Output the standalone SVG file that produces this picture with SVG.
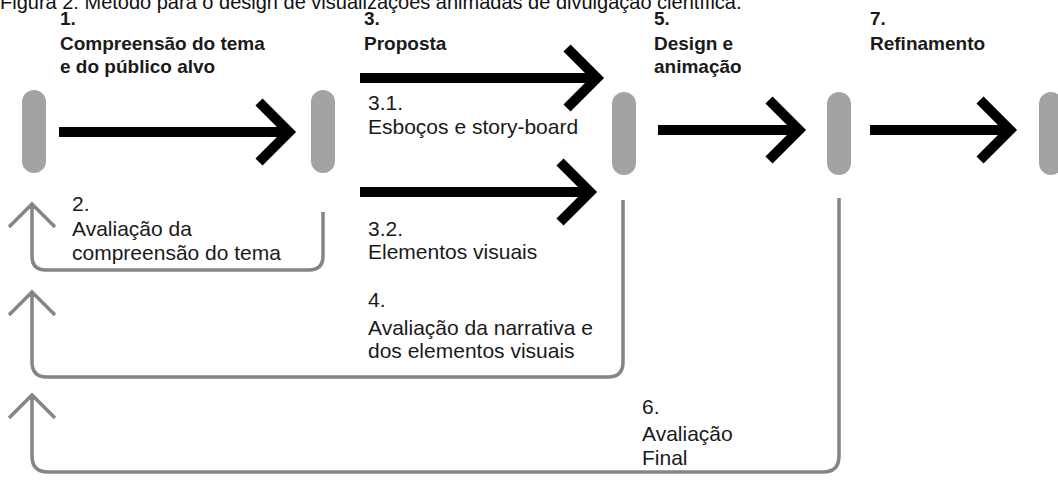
<svg xmlns="http://www.w3.org/2000/svg" width="1058" height="480" viewBox="0 0 1058 480">
<style>
.cap{font-family:"Liberation Sans",Arial,sans-serif;font-size:20px;fill:#111}
.h{font-family:"Liberation Sans",Arial,sans-serif;font-size:19px;font-weight:bold;fill:#1a1a1a}
.t{font-family:"Liberation Sans",Arial,sans-serif;font-size:21px;fill:#1a1a1a}
.pill{fill:#a3a3a3}
.fw{fill:none;stroke:#000;stroke-width:10;stroke-linejoin:miter;stroke-miterlimit:10}
.fb{fill:none;stroke:#858585;stroke-width:3.5;stroke-linejoin:miter}
</style>
<rect width="1058" height="480" fill="#fff"/>
<text class="cap" x="0" y="9">Figura 2: Método para o design de visualizações animadas de divulgação científica.</text>
<g id="step1"><text class="h" x="60" y="25">1.</text><text class="h" x="60" y="50">Compreensão do tema</text><text class="h" x="60" y="73">e do público alvo</text></g>
<g id="step3"><text class="h" x="364" y="25">3.</text><text class="h" x="364" y="50">Proposta</text></g>
<g id="step5"><text class="h" x="654" y="25">5.</text><text class="h" x="654" y="50">Design e</text><text class="h" x="654" y="73">animação</text></g>
<g id="step7"><text class="h" x="870" y="25">7.</text><text class="h" x="870" y="50">Refinamento</text></g>
<g id="pills">
<rect id="p1" class="pill" x="22" y="90" width="24" height="83" rx="12"/>
<rect id="p2" class="pill" x="311" y="90" width="24" height="83" rx="12"/>
<rect id="p3" class="pill" x="612" y="92" width="24" height="83" rx="12"/>
<rect id="p4" class="pill" x="827" y="92" width="24" height="83" rx="12"/>
<rect id="p5" class="pill" x="1039" y="92" width="24" height="83" rx="12"/>
</g>
<g id="step31"><text class="t" x="368" y="110">3.1.</text><text class="t" x="368" y="134">Esboços e story-board</text></g>
<g id="step32"><text class="t" x="368" y="236">3.2.</text><text class="t" x="368" y="259">Elementos visuais</text></g>
<g id="step2"><text class="t" x="72" y="211">2.</text><text class="t" x="72" y="236">Avaliação da</text><text class="t" x="72" y="260">compreensão do tema</text></g>
<g id="step4"><text class="t" x="368" y="307">4.</text><text class="t" x="368" y="335">Avaliação da narrativa e</text><text class="t" x="368" y="358">dos elementos visuais</text></g>
<g id="step6"><text class="t" x="642" y="414">6.</text><text class="t" x="642" y="441">Avaliação</text><text class="t" x="642" y="465">Final</text></g>
<g id="connectors">
<path class="fw" d="M59,132 H287 M259,102 L289,132 L259,162"/>
<path class="fw" d="M360,78 H595 M567,48 L597,78 L567,108"/>
<path class="fw" d="M360,192 H588 M560,162 L590,192 L560,222"/>
<path class="fw" d="M658,130 H797 M769,100 L799,130 L769,160"/>
<path class="fw" d="M870,130 H1008 M980,100 L1010,130 L980,160"/>
<path class="fb" d="M323,212 V256 Q323,270 309,270 H46 Q32,270 32,256 V205 M9,227 L32,204 L55,227"/>
<path class="fb" d="M623,200 V362 Q623,377 608,377 H47 Q32,377 32,362 V292 M9,315 L32,292 L55,315"/>
<path class="fb" d="M839,198 V456 Q839,472 823,472 H48 Q32,472 32,456 V395 M9,418 L32,395 L55,418"/>
</g>
</svg>
